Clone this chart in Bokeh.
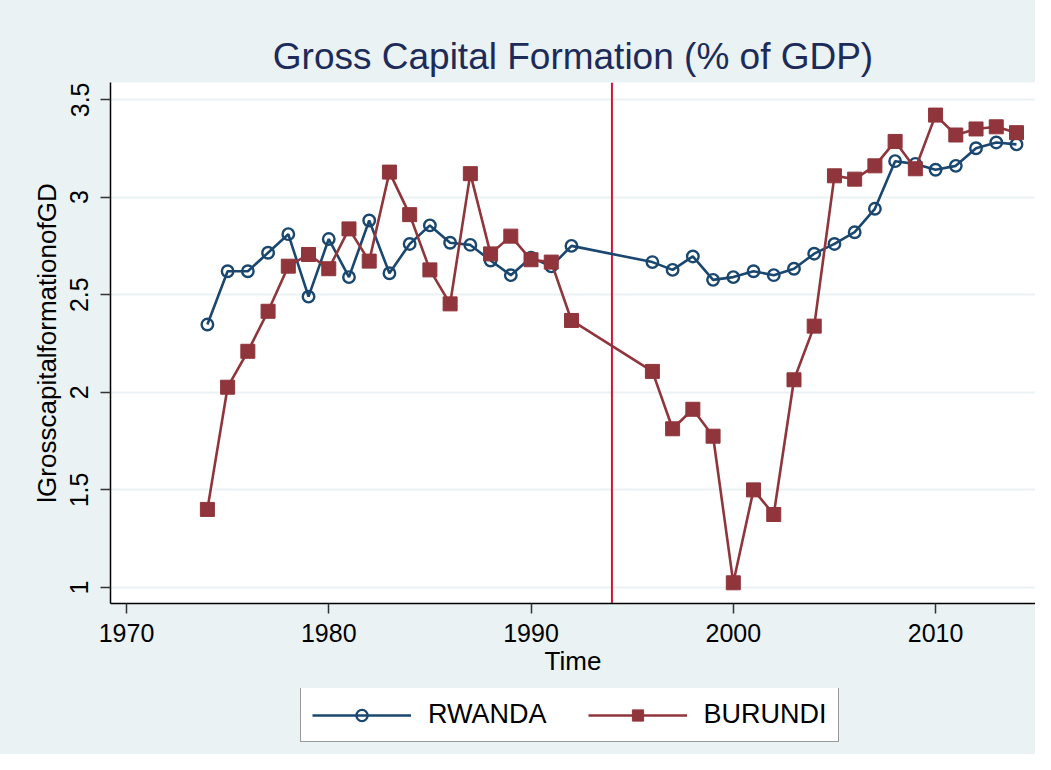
from bokeh.plotting import figure
from bokeh.layouts import column
from bokeh.models import Range1d, FixedTicker, Span, Legend, LegendItem, Label
from bokeh.embed import file_html
from bokeh.resources import INLINE

# ---- data ----
years_rw = [1974, 1975, 1976, 1977, 1978, 1979, 1980, 1981, 1982, 1983, 1984, 1985,
            1986, 1987, 1988, 1989, 1990, 1991, 1992, 1996, 1997, 1998, 1999, 2000,
            2001, 2002, 2003, 2004, 2005, 2006, 2007, 2008, 2009, 2010, 2011, 2012,
            2013, 2014]
rwanda = [2.347, 2.62, 2.62, 2.715, 2.81, 2.49, 2.785, 2.59, 2.88, 2.61, 2.76, 2.855,
          2.766, 2.755, 2.675, 2.60, 2.69, 2.645, 2.75, 2.667, 2.627, 2.696, 2.576, 2.59,
          2.62, 2.60, 2.633, 2.71, 2.76, 2.82, 2.94, 3.184, 3.17, 3.14, 3.16, 3.25,
          3.28, 3.27]
years_bu = list(years_rw)
burundi = [1.40, 2.026, 2.21, 2.415, 2.646, 2.706, 2.633, 2.837, 2.672, 3.128, 2.91, 2.627,
           2.453, 3.12, 2.709, 2.80, 2.679, 2.667, 2.368, 2.107, 1.813, 1.913, 1.775, 1.024,
           1.50, 1.374, 2.064, 2.339, 3.109, 3.092, 3.16, 3.285, 3.145, 3.42, 3.318, 3.349,
           3.36, 3.33]
event_year = 1994
x_ticks = [1970, 1980, 1990, 2000, 2010]
y_ticks = [1, 1.5, 2, 2.5, 3, 3.5]
y_tick_labels = ["1", "1.5", "2", "2.5", "3", "3.5"]
series_names = ["RWANDA", "BURUNDI"]
title_text = "Gross Capital Formation (% of GDP)"

NAVY = "#1A476F"
MAROON = "#90353B"
BG = "#EAF2F3"
FONT = "Liberation Sans"
W = 1035
LEFT = 110          # left border of the plot area (px)
NAN = float("nan")


def strip_fig(h):
    # a plain strip whose frame is aligned with the main plot area (column aligns frames)
    f = figure(width=W, height=h, output_backend="svg", toolbar_location=None,
               x_range=Range1d(LEFT, W), y_range=Range1d(0, h),
               min_border_left=0, min_border_right=0, min_border_top=0, min_border_bottom=0,
               x_axis_location=None, y_axis_location=None)
    f.background_fill_color = BG
    f.border_fill_color = BG
    f.outline_line_color = None
    f.xgrid.grid_line_color = None
    f.ygrid.grid_line_color = None
    return f


# ---- title strip ----
pt = strip_fig(82)
pt.add_layout(Label(x=(LEFT + W) / 2, y=26, text=title_text, text_align="center",
                    text_baseline="middle", text_font=FONT, text_font_size="37px",
                    text_color="#1C2B59"))

# ---- main plot ----
p = figure(width=W, height=606, output_backend="svg", toolbar_location=None,
           x_range=Range1d(1969.21, 2014.94), y_range=Range1d(0.918, 3.587),
           min_border_left=LEFT, min_border_right=0, min_border_top=0, min_border_bottom=85)
p.background_fill_color = "white"
p.border_fill_color = BG
p.outline_line_color = None

for ax in (p.xaxis[0], p.yaxis[0]):
    ax.axis_line_color = "black"
    ax.axis_line_width = 1.5
    ax.major_tick_line_color = "#333333"
    ax.major_tick_line_width = 1.5
    ax.major_tick_out = 10
    ax.major_tick_in = 0
    ax.minor_tick_line_color = None
    ax.major_label_text_font = FONT
    ax.major_label_text_font_size = "25px"
    ax.major_label_text_color = "black"
    ax.axis_label_text_font = FONT
    ax.axis_label_text_font_size = "26px"
    ax.axis_label_text_font_style = "normal"
    ax.axis_label_text_color = "black"

p.xaxis.major_label_standoff = 10
p.xaxis.axis_label_standoff = 1
p.yaxis.major_label_standoff = 12
p.yaxis.axis_label_standoff = 6

p.xaxis.ticker = FixedTicker(ticks=x_ticks)
p.xaxis.axis_label = "Time"
p.yaxis.ticker = FixedTicker(ticks=y_ticks)
p.yaxis.major_label_overrides = {t: l for t, l in zip(y_ticks, y_tick_labels)}
p.yaxis.major_label_orientation = "vertical"
p.yaxis.axis_label = "lGrosscapitalformationofGD"

p.xgrid.grid_line_color = None
p.ygrid.grid_line_color = BG
p.ygrid.grid_line_width = 2

p.add_layout(Span(location=event_year, dimension="height", line_color="#D0143C",
                  line_width=2, level="underlay"))

p.line(years_rw, rwanda, line_color=NAVY, line_width=2.6)
p.scatter(years_rw, rwanda, marker="circle", size=11.5, fill_color=None,
          line_color=NAVY, line_width=2.4)
p.line(years_bu, burundi, line_color=MAROON, line_width=2.6)
p.scatter(years_bu, burundi, marker="square", size=14, fill_color=MAROON,
          line_color=MAROON, line_width=1)

# ---- legend strip (legend keys only; their single point is NaN, so nothing is drawn) ----
pl = strip_fig(66)
k1l = pl.line([NAN], [NAN], line_color=NAVY, line_width=2.5)
k1s = pl.scatter([NAN], [NAN], marker="circle", fill_color=None, line_color=NAVY, line_width=2.3)
k2l = pl.line([NAN], [NAN], line_color=MAROON, line_width=2.5)
k2s = pl.scatter([NAN], [NAN], marker="square", fill_color=MAROON, line_color=MAROON, line_width=1)
legend = Legend(items=[LegendItem(label=series_names[0], renderers=[k1l, k1s]),
                       LegendItem(label=series_names[1], renderers=[k2l, k2s])],
                orientation="horizontal", location=(190, 12),
                glyph_width=99, glyph_height=28, label_standoff=17, spacing=41,
                padding=11, margin=0,
                label_text_font=FONT, label_text_font_size="27px",
                label_text_color="black",
                border_line_color="#333333", border_line_width=1.5,
                background_fill_color="white", background_fill_alpha=1)
pl.add_layout(legend)

layout = column(pt, p, pl, spacing=0, styles={"background-color": BG})
open("out.html", "w").write(file_html(layout, INLINE))
